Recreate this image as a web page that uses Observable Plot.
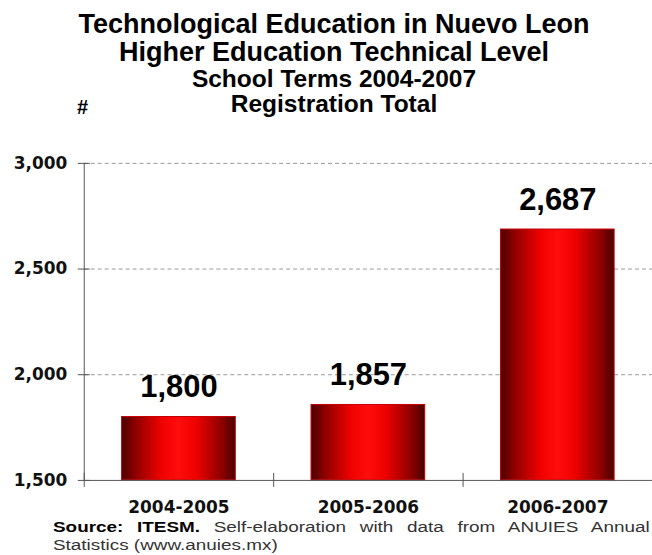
<!DOCTYPE html>
<html>
<head>
<meta charset="utf-8">
<script src="https://cdn.jsdelivr.net/npm/d3@7"></script>
<script src="https://cdn.jsdelivr.net/npm/@observablehq/plot@0.6"></script>
<style>
  html, body { margin: 0; padding: 0; background: #fff; overflow: hidden; width: 652px; height: 555px; }
  #wrap { position: relative; width: 652px; height: 555px; }
  .t { position: absolute; left: 0; width: 668px; text-align: center; font-family: "Liberation Sans", Arial, sans-serif; font-weight: bold; color: #000; white-space: nowrap; }
  .t1 { font-size: 27px; line-height: 31px; }
  .t2 { font-size: 24.5px; line-height: 28px; }
  #hash { position: absolute; left: 77px; top: 96px; font-family: "Liberation Sans", Arial, sans-serif; font-weight: bold; font-size: 20px; line-height: 23px; }
  #chart { position: absolute; left: 0; top: 125px; }
  .cap { position: absolute; left: 53px; font-family: "Liberation Sans", Arial, sans-serif; font-size: 14px; line-height: 17px; color: #333; transform: scaleX(1.35); transform-origin: left top; white-space: nowrap; }
  .cap b { color: #000; }
  #cap1 { top: 519px; width: 442px; text-align: justify; text-align-last: justify; }
  #cap2 { top: 537px; }
</style>
</head>
<body>
<div id="wrap">
  <div class="t t1" style="top:9px">Technological Education in Nuevo Leon</div>
  <div class="t t1" style="top:37px">Higher Education Technical Level</div>
  <div class="t t2" style="top:65px">School Terms 2004-2007</div>
  <div class="t t2" style="top:90px">Registration Total</div>
  <div id="hash">#</div>
  <div id="chart"></div>
  <div class="cap" id="cap1"><b>Source: ITESM.</b> Self-elaboration with data from ANUIES Annual</div>
  <div class="cap" id="cap2">Statistics (www.anuies.mx)</div>
</div>
<script>
const categories = ["2004-2005", "2005-2006", "2006-2007"];
const registrations = [1800, 1857, 2687];
const valueLabels = ["1,800", "1,857", "2,687"];
const yTicks = [1500, 2000, 2500, 3000];
const yTickLabels = ["1,500", "2,000", "2,500", "3,000"];

const data = categories.map((c, i) => ({term: c, total: registrations[i], label: valueLabels[i]}));

const W = 654, ML = 84, MR = 0;
const step = (W - ML - MR) / categories.length;

function gradientDefs() {
  const ns = "http://www.w3.org/2000/svg";
  const defs = document.createElementNS(ns, "defs");
  const g = document.createElementNS(ns, "linearGradient");
  g.setAttribute("id", "barGrad");
  g.setAttribute("x1", "0"); g.setAttribute("x2", "1");
  g.setAttribute("y1", "0"); g.setAttribute("y2", "0");
  [[0, "#4a0000"], [0.12, "#8e0000"], [0.35, "#f00000"], [0.5, "#ff0d0d"], [0.65, "#f00000"], [0.88, "#8e0000"], [1, "#4a0000"]]
    .forEach(([o, c]) => {
      const s = document.createElementNS(ns, "stop");
      s.setAttribute("offset", o);
      s.setAttribute("stop-color", c);
      g.appendChild(s);
    });
  defs.appendChild(g);
  return defs;
}

const chart = Plot.plot({
  width: W,
  height: 393,
  marginLeft: ML,
  marginRight: MR,
  marginTop: 38,
  marginBottom: 37,
  style: {background: "transparent", fontFamily: "DejaVu Sans", fontSize: "17px", fontWeight: "bold", color: "#000", overflow: "visible"},
  x: {domain: categories, paddingInner: 0.4, paddingOuter: 0.2, label: null},
  y: {domain: [yTicks[0], yTicks[yTicks.length - 1]], label: null},
  marks: [
    gradientDefs,
    Plot.gridY(yTicks.slice(1), {stroke: "#9a9a9a", strokeOpacity: 1, strokeDasharray: "4,3"}),
    Plot.barY(data, {x: "term", y1: yTicks[0], y2: "total", fill: "url(#barGrad)", stroke: "#c40000", strokeWidth: 1}),
    Plot.ruleY([yTicks[0]], {stroke: "#555"}),
    Plot.ruleX([categories[0]], {x: d => d, dx: -step / 2, y1: yTicks[0], y2: yTicks[yTicks.length - 1], stroke: "#555"}),
    Plot.ruleX(categories, {x: d => d, dx: -step / 2, y1: yTicks[0], y2: yTicks[0], insetTop: -7, insetBottom: -7, stroke: "#555"}),
    Plot.axisY(yTicks, {tickSize: 12, dx: 6, tickFormat: () => "", stroke: "#555", label: null}),
    Plot.axisY(yTicks, {tickSize: 0, tickPadding: 17, tickFormat: d => yTickLabels[yTicks.indexOf(d)], label: null, fill: "#111"}),
    Plot.axisX({tickSize: 0, tickPadding: 21, label: null, fill: "#111"}),
    Plot.text(data, {x: "term", y: "total", text: "label", lineAnchor: "bottom", dy: -20, fontSize: 31, fontFamily: "Liberation Sans", fontWeight: "bold", fill: "#000", style: "letter-spacing:-0.6px"})
  ]
});
document.getElementById("chart").appendChild(chart);
</script>
</body>
</html>
